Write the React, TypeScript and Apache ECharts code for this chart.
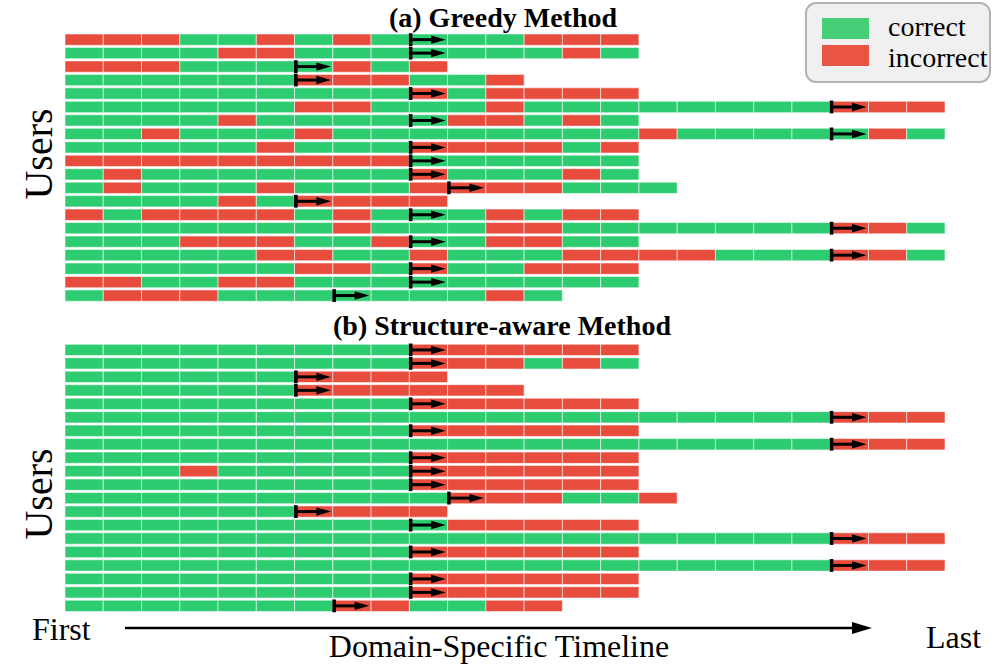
import React, { useEffect, useRef } from "react";
import * as echarts from "echarts";

// ---- data ----
// G = correct, R = incorrect; one string per user, one letter per item
const greedyRows: string[] = [
  "RRRGGRGRGGGGRRR",
  "GGGGRRGGGGGGGRG",
  "RRRGGGGRGR",
  "GGGGGGRRRGGR",
  "GGGGGGGGGRGRRRR",
  "GGGGGGRRGGGRGGGGGGGGRRR",
  "GGGGRGGGGGRRGRG",
  "GGRGGGRGGGGGGGGRGGGGGRG",
  "GGGGGRGGGRRRRGR",
  "RRRRRRRRRGGGGGG",
  "GRGGGGGGGRGGGRG",
  "GRGGGRGGGRRRRGGG",
  "GGGGRGRRRR",
  "RGRRRRGRGGGRGRR",
  "GGGGGGGRGGGRRGGGGGGGRRG",
  "GGGRRRGGRGGRRGG",
  "GGGGGRRGGRGGGRRRRGGGRRG",
  "GGGGGGRRGRGGRRR",
  "RRGGRRGGGGGGGGG",
  "GRRRGGGGGGGRG",
];

const structureRows: string[] = [
  "GGGGGGGGGRRRRRR",
  "GGGGGGGGGRRRGRG",
  "GGGGGGRRRR",
  "GGGGGGRRRRRR",
  "GGGGGGGGGRRRRRR",
  "GGGGGGGGGGGGGGGGGGGGRRR",
  "GGGGGGGGGRRRRRR",
  "GGGGGGGGGGGGGGGGGGGGRRR",
  "GGGGGGGGGRRRRRR",
  "GGGRGGGGGRRRRRR",
  "GGGGGGGGGRRRRRR",
  "GGGGGGGGGGRRRGGR",
  "GGGGGGRRRR",
  "GGGGGGGGGGRRRRR",
  "GGGGGGGGGGGGGGGGGGGGRRR",
  "GGGGGGGGGRRRRRR",
  "GGGGGGGGGGGGGGGGGGGGRRR",
  "GGGGGGGGGRRRRRR",
  "GGGGGGGGGRRRRRR",
  "GGGGGGGRRGGRR",
];

// column index where the prediction starts (arrow) for each user
const arrowCols: number[] = [9, 9, 6, 6, 9, 20, 9, 20, 9, 9, 9, 10, 6, 9, 20, 9, 20, 9, 9, 7];

const panelTitles: string[] = ["(a) Greedy Method", "(b) Structure-aware Method"];
const legendLabels: string[] = ["correct", "incorrect"];
const yLabel = "Users";
const xLabelStart = "First";
const xLabelEnd = "Last";
const xLabelMid = "Domain-Specific Timeline";

const MAX_COLS = 23;

// ---- styles ----
const GREEN = "#2ecc71";
const RED = "#e74c3c";
const SERIF = "'Liberation Serif', 'Times New Roman', serif";

function cellData(rows: string[]) {
  const out: number[][] = [];
  rows.forEach((row, r) => {
    row.split("").forEach((ch, c) => {
      out.push([c, r, ch === "R" ? 1 : 0]);
    });
  });
  return out;
}

const arrowData = arrowCols.map((c, r) => [c, r]);

const renderCell = (params: any, api: any) => {
  const c = api.value(0);
  const r = api.value(1);
  const v = api.value(2);
  const p = api.coord([c, r]);
  const s = api.size([1, 1]);
  const h = s[1] * 0.84;
  return {
    type: "rect",
    shape: { x: p[0], y: p[1] + (s[1] - h) / 2, width: s[0], height: h },
    style: { fill: v ? RED : GREEN, stroke: "rgba(255,255,255,0.55)", lineWidth: 1 },
  };
};

const renderArrow = (params: any, api: any) => {
  const c = api.value(0);
  const r = api.value(1);
  const p = api.coord([c, r]);
  const s = api.size([1, 1]);
  const x0 = p[0];
  const yc = p[1] + s[1] / 2;
  const cw = s[0];
  return {
    type: "group",
    children: [
      { type: "rect", shape: { x: x0 - 0.5, y: yc - 6.4, width: 3.6, height: 12.8 }, style: { fill: "#000" } },
      { type: "rect", shape: { x: x0 + 2, y: yc - 1.5, width: cw * 0.6, height: 3 }, style: { fill: "#000" } },
      {
        type: "polygon",
        shape: { points: [[x0 + cw * 0.57, yc - 4.2], [x0 + cw * 0.95, yc], [x0 + cw * 0.57, yc + 4.2]] },
        style: { fill: "#000" },
      },
    ],
  };
};

export default function App() {
  const ref = useRef<HTMLDivElement>(null);

  useEffect(() => {
    if (!ref.current) return;
    const chart = echarts.init(ref.current, undefined, { renderer: "svg" });

    const grids = [
      { left: 65, width: 880, top: 32.9, height: 269.4 },
      { left: 65, width: 880, top: 343.2, height: 269.4 },
    ];

    const xAxes = grids.map((_, i) => ({
      type: "value",
      gridIndex: i,
      min: 0,
      max: MAX_COLS,
      show: false,
    }));
    const yAxes = grids.map((_, i) => ({
      type: "value",
      gridIndex: i,
      min: 0,
      max: greedyRows.length,
      inverse: true,
      show: false,
    }));

    const series: any[] = [];
    [greedyRows, structureRows].forEach((rows, i) => {
      series.push({
        type: "custom",
        xAxisIndex: i,
        yAxisIndex: i,
        renderItem: renderCell,
        data: cellData(rows),
        silent: true,
      });
      series.push({
        type: "custom",
        xAxisIndex: i,
        yAxisIndex: i,
        renderItem: renderArrow,
        data: arrowData,
        silent: true,
        z: 5,
      });
    });

    const textEl = (text: string, x: number, y: number, size: number, opts: any = {}) => ({
      type: "text",
      x,
      y,
      rotation: opts.rotation || 0,
      style: {
        text,
        x: 0,
        y: 0,
        fill: "#000",
        fontFamily: SERIF,
        fontSize: size,
        fontWeight: opts.bold ? "bold" : "normal",
        textAlign: opts.align || "center",
        textVerticalAlign: "middle",
        align: opts.align || "center",
        verticalAlign: "middle",
      },
      z: 10,
    });

    const graphic: any[] = [
      textEl(panelTitles[0], 503, 17, 28, { bold: true }),
      textEl(panelTitles[1], 502, 325, 28, { bold: true }),
      textEl(yLabel, 38, 154, 40, { rotation: Math.PI / 2 }),
      textEl(yLabel, 38, 494, 40, { rotation: Math.PI / 2 }),
      textEl(xLabelStart, 32, 629, 32, { align: "left" }),
      textEl(xLabelEnd, 926, 637, 32, { align: "left" }),
      textEl(xLabelMid, 499, 646, 32),
      {
        type: "line",
        shape: { x1: 125, y1: 628, x2: 858, y2: 628 },
        style: { stroke: "#000", lineWidth: 2.5 },
        z: 10,
      },
      {
        type: "polygon",
        shape: { points: [[852, 622], [872, 628], [852, 634]] },
        style: { fill: "#000" },
        z: 10,
      },
      // legend
      {
        type: "rect",
        shape: { x: 806, y: 3, width: 184, height: 79, r: 10 },
        style: { fill: "#f0f0f0", stroke: "#b3b3b3", lineWidth: 2 },
        z: 20,
      },
      {
        type: "rect",
        shape: { x: 822, y: 18, width: 47, height: 21 },
        style: { fill: "#46cf78" },
        z: 21,
      },
      {
        type: "rect",
        shape: { x: 822, y: 45, width: 47, height: 21 },
        style: { fill: "#e95445" },
        z: 21,
      },
      { ...textEl(legendLabels[0], 888, 26, 28, { align: "left" }), z: 21 },
      { ...textEl(legendLabels[1], 888, 57, 28, { align: "left" }), z: 21 },
    ];

    chart.setOption({
      animation: false,
      backgroundColor: "#ffffff",
      grid: grids,
      xAxis: xAxes,
      yAxis: yAxes,
      series,
      graphic,
    });

    return () => chart.dispose();
  }, []);

  return (
    <div
      ref={ref}
      style={{ position: "absolute", left: 0, top: 0, width: 995, height: 664, background: "#fff" }}
    />
  );
}
